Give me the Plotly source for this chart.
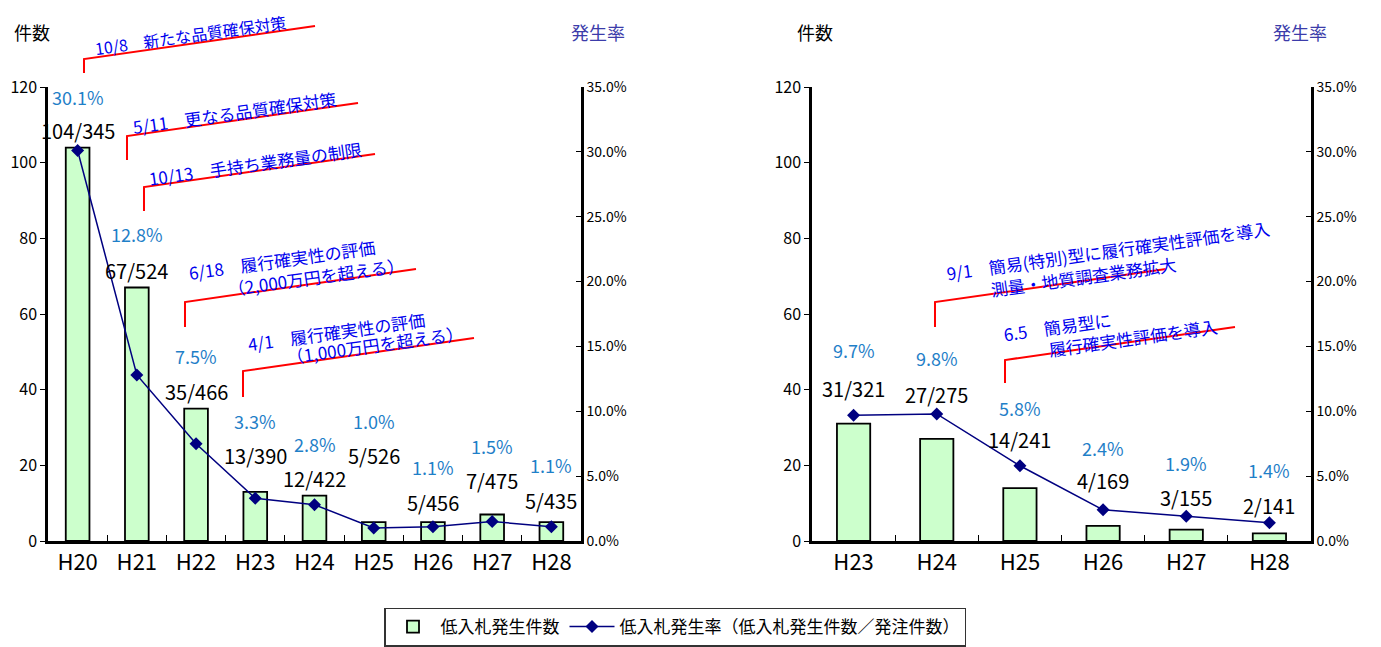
import plotly.graph_objects as go

# ---------------- data ----------------
cats_left = ["H20", "H21", "H22", "H23", "H24", "H25", "H26", "H27", "H28"]
counts_left = [104, 67, 35, 13, 12, 5, 5, 7, 5]
orders_left = [345, 524, 466, 390, 422, 526, 456, 475, 435]
rates_left = [30.1, 12.8, 7.5, 3.3, 2.8, 1.0, 1.1, 1.5, 1.1]

cats_right = ["H23", "H24", "H25", "H26", "H27", "H28"]
counts_right = [31, 27, 14, 4, 3, 2]
orders_right = [321, 275, 241, 169, 155, 141]
rates_right = [9.7, 9.8, 5.8, 2.4, 1.9, 1.4]

count_ticks = [0, 20, 40, 60, 80, 100, 120]
rate_ticks = [0, 5, 10, 15, 20, 25, 30, 35]
rate_tick_labels = ["0.0%", "5.0%", "10.0%", "15.0%", "20.0%", "25.0%", "30.0%", "35.0%"]

# label positions (in count-axis units)
pct_pos_left = [117.4, 81.2, 48.9, 31.7, 25.6, 31.7, 19.6, 25.1, 20.1]
frac_pos_left = [108.6, 71.6, 39.4, 22.7, 16.4, 22.7, 10.3, 15.9, 10.8]
pct_pos_right = [50.5, 48.4, 35.2, 24.6, 20.6, 18.8]
frac_pos_right = [40.4, 38.6, 26.7, 15.9, 11.4, 9.5]

# policy notes: (text, center px x, center px y, font size)
notes = [
    ("10/8\u3000新たな品質確保対策", 190, 35, 16),
    ("5/11\u3000更なる品質確保対策", 234, 112, 17),
    ("10/13\u3000手持ち業務量の制限", 255, 164, 17),
    ("6/18\u3000履行確実性の評価", 282, 260, 17),
    ("（2,000万円を超える）", 316, 276, 17),
    ("4/1\u3000履行確実性の評価", 336, 331, 17),
    ("（1,000万円を超える）", 375, 345, 17),
    ("9/1\u3000簡易(特別)型に履行確実性評価を導入", 1108, 250, 17),
    ("測量・地質調査業務拡大", 1083, 276, 17),
    ("6.5\u3000簡易型に", 1057, 326, 17),
    ("履行確実性評価を導入", 1133, 337, 17),
]
note_lines = [
    [(84, 73), (84, 59), (315, 26)],
    [(127, 160), (127, 136), (358, 103)],
    [(144, 211), (144, 187), (375, 154)],
    [(185, 327), (185, 302), (416, 269)],
    [(243, 397), (243, 371), (474, 338)],
    [(935, 327), (935, 302), (1166, 269)],
    [(1005, 383), (1005, 360), (1235, 327)],
]

# the page body has an 8px default margin; size the figure to fill the window
OFF = 8
W, H = 1381 - OFF, 647 - OFF
FONT = "Noto Sans CJK JP"


def px(x):
    return (x - OFF) / W


def py(y):
    return 1 - (y - OFF) / H


BAR_FILL = "#ccffcc"
LINE_COL = "#000080"
PCT_COL = "#1f80c8"
NOTE_COL = "#0000ee"
RATE_TITLE_COL = "#3c3caa"

fig = go.Figure()

fig.add_trace(go.Bar(x=cats_left, y=counts_left, name="低入札発生件数",
                     marker=dict(color=BAR_FILL, line=dict(color="black", width=1.8)),
                     width=0.4, xaxis="x", yaxis="y", showlegend=True))
fig.add_trace(go.Scatter(x=cats_left, y=rates_left, name="低入札発生率（低入札発生件数／発注件数）",
                         mode="lines+markers",
                         line=dict(color=LINE_COL, width=1.5),
                         marker=dict(symbol="diamond", size=10, color=LINE_COL),
                         xaxis="x", yaxis="y2", showlegend=True))
fig.add_trace(go.Bar(x=cats_right, y=counts_right, name="低入札発生件数",
                     marker=dict(color=BAR_FILL, line=dict(color="black", width=1.8)),
                     width=0.4, xaxis="x2", yaxis="y3", showlegend=False))
fig.add_trace(go.Scatter(x=cats_right, y=rates_right, name="低入札発生率",
                         mode="lines+markers",
                         line=dict(color=LINE_COL, width=1.5),
                         marker=dict(symbol="diamond", size=10, color=LINE_COL),
                         xaxis="x2", yaxis="y4", showlegend=False))

ydom = [py(541), py(87)]
xcommon = dict(showline=True, linecolor="black", linewidth=2.5, ticks="inside",
               tickson="boundaries", ticklen=6, tickcolor="black",
               tickfont=dict(size=22, color="black", family=FONT), showgrid=False,
               zeroline=False, fixedrange=True, automargin=False)
ycount = dict(range=[0, 120], tickvals=count_ticks, showline=True, linecolor="black",
              linewidth=2.5, ticks="outside", ticklen=5, tickcolor="black",
              tickfont=dict(size=16, color="black", family=FONT), showgrid=False,
              zeroline=False, domain=ydom, automargin=False)
yrate = dict(range=[0, 35], tickvals=rate_ticks, ticktext=rate_tick_labels,
             showline=True, linecolor="black", linewidth=2.5, ticks="inside", ticklen=5,
             tickcolor="black", tickfont=dict(size=14, color="black", family=FONT),
             showgrid=False, zeroline=False, side="right", automargin=False)

fig.update_layout(
    width=W, height=H,
    margin=dict(l=0, r=0, t=0, b=0, autoexpand=False),
    paper_bgcolor="white", plot_bgcolor="white",
    font=dict(family=FONT, color="black"),
    xaxis=dict(domain=[px(48), px(581)], anchor="y", range=[-0.5, len(cats_left) - 0.5],
               **xcommon),
    yaxis=dict(anchor="x", **ycount),
    yaxis2=dict(overlaying="y", anchor="x", **yrate),
    xaxis2=dict(domain=[px(812), px(1311)], anchor="y3",
                range=[-0.5, len(cats_right) - 0.5], **xcommon),
    yaxis3=dict(anchor="x2", **ycount),
    yaxis4=dict(overlaying="y3", anchor="x2", **yrate),
    legend=dict(orientation="h", x=px(675), xanchor="center", y=py(627), yanchor="middle",
                bordercolor="#333333", borderwidth=1.5, bgcolor="white",
                font=dict(size=17, family=FONT, color="black"), itemwidth=45,
                tracegroupgap=0),
    showlegend=True,
)

ann = []
# data labels
for c, r, n, o, pp, fp in zip(cats_left, rates_left, counts_left, orders_left,
                              pct_pos_left, frac_pos_left):
    ann.append(dict(x=c, y=pp, xref="x", yref="y", text=f"{r:.1f}%", showarrow=False,
                    xanchor="center", yanchor="middle",
                    font=dict(size=18, color=PCT_COL, family=FONT)))
    ann.append(dict(x=c, y=fp, xref="x", yref="y", text=f"{n}/{o}", showarrow=False,
                    xanchor="center", yanchor="middle",
                    font=dict(size=20, color="black", family=FONT)))
for c, r, n, o, pp, fp in zip(cats_right, rates_right, counts_right, orders_right,
                              pct_pos_right, frac_pos_right):
    ann.append(dict(x=c, y=pp, xref="x2", yref="y3", text=f"{r:.1f}%", showarrow=False,
                    xanchor="center", yanchor="middle",
                    font=dict(size=18, color=PCT_COL, family=FONT)))
    ann.append(dict(x=c, y=fp, xref="x2", yref="y3", text=f"{n}/{o}", showarrow=False,
                    xanchor="center", yanchor="middle",
                    font=dict(size=20, color="black", family=FONT)))

# axis titles
for t, x, col in [("件数", 32, "black"), ("発生率", 598, RATE_TITLE_COL),
                  ("件数", 815, "black"), ("発生率", 1300, RATE_TITLE_COL)]:
    ann.append(dict(x=px(x), y=py(32), xref="paper", yref="paper", text=t, showarrow=False,
                    xanchor="center", yanchor="middle",
                    font=dict(size=18, color=col, family=FONT)))

# policy notes
for t, x, y, fs in notes:
    ann.append(dict(x=px(x), y=py(y), xref="paper", yref="paper", text=t, showarrow=False,
                    xanchor="center", yanchor="middle",
                    textangle=-8, font=dict(size=fs, color=NOTE_COL, family=FONT)))

fig.update_layout(annotations=ann)

shapes = []
for pts in note_lines:
    path = "M " + " L ".join(f"{px(a):.5f} {py(b):.5f}" for a, b in pts)
    shapes.append(dict(type="path", path=path, xref="paper", yref="paper",
                       line=dict(color="red", width=2)))
fig.update_layout(shapes=shapes)

fig.write_html("out.html")
